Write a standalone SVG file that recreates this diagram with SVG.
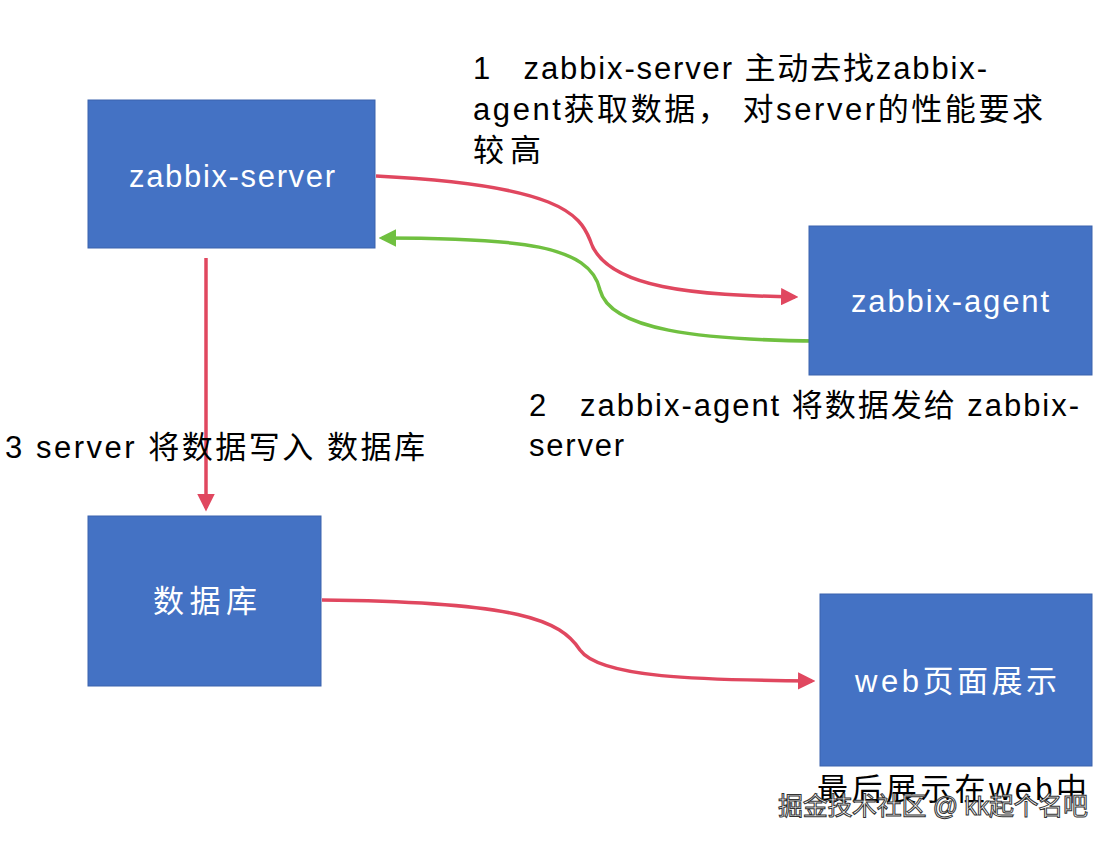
<svg xmlns="http://www.w3.org/2000/svg" width="1113" height="843" viewBox="0 0 1113 843">
<defs>
<style>
.box{fill:#4472c4;stroke:#3a63ad;stroke-width:1}
.bt{fill:#fff;font-family:"Liberation Sans","Noto Sans CJK SC",sans-serif;font-size:31px;text-anchor:middle}
.lt{fill:#000;font-family:"Liberation Sans","Noto Sans CJK SC",sans-serif;font-size:31px}
.red{fill:none;stroke:#e0475f;stroke-width:3.5}
.grn{fill:none;stroke:#70c040;stroke-width:3.5}
</style>
<marker id="ar" viewBox="0 0 10 10" refX="8" refY="5" markerWidth="5" markerHeight="5" orient="auto"><path d="M0,0 L10,5 L0,10 Z" fill="#e0475f"/></marker>
<marker id="ag" viewBox="0 0 10 10" refX="8" refY="5" markerWidth="5" markerHeight="5" orient="auto"><path d="M0,0 L10,5 L0,10 Z" fill="#70c040"/></marker>
</defs>
<rect width="1113" height="843" fill="#fff"/>
<g id="connectors">
<path class="red" d="M376,176 C560,185 580,215 590,240 C605,290 700,295 795,297" marker-end="url(#ar)"/>
<path class="grn" d="M818,341 C700,340 610,330 600,290 C590,245 520,238 382,238" marker-end="url(#ag)"/>
<path class="red" d="M206,258 L206,508" marker-end="url(#ar)"/>
<path class="red" d="M322,600 C520,602 560,620 580,650 C600,678 700,680 812,681" marker-end="url(#ar)"/>
</g>
<g id="n-server"><rect class="box" x="88" y="100" width="287" height="148"/><text class="bt" x="232" y="187" textLength="206">zabbix-server</text></g>
<g id="n-agent"><rect class="box" x="809" y="226" width="283" height="149"/><text class="bt" x="950" y="312" textLength="198">zabbix-agent</text></g>
<g id="n-db"><rect class="box" x="88" y="516" width="233" height="170"/><text class="bt" x="205" y="612" textLength="104">数据库</text></g>
<g id="n-web"><rect class="box" x="820" y="594" width="272" height="172"/><text class="bt" x="956" y="692" textLength="202">web页面展示</text></g>
<g id="labels">
<text class="lt" x="473" y="79" xml:space="preserve" textLength="514">1   zabbix-server 主动去找zabbix-</text>
<text class="lt" x="473" y="120" textLength="570">agent获取数据， 对server的性能要求</text>
<text class="lt" x="473" y="161" textLength="68">较高</text>
<text class="lt" x="529" y="416" xml:space="preserve" textLength="550">2   zabbix-agent 将数据发给 zabbix-</text>
<text class="lt" x="529" y="456" textLength="95">server</text>
<text class="lt" x="5" y="458" textLength="420">3 server 将数据写入 数据库</text>
<text class="lt" x="817" y="800" textLength="270">最后展示在web中</text>
<text x="778" y="815" font-family="Liberation Sans,Noto Sans CJK SC,sans-serif" font-size="25" fill="#fff" stroke="#333" stroke-width="1" textLength="310">掘金技术社区 @ kk起个名吧</text>
</g>
</svg>
